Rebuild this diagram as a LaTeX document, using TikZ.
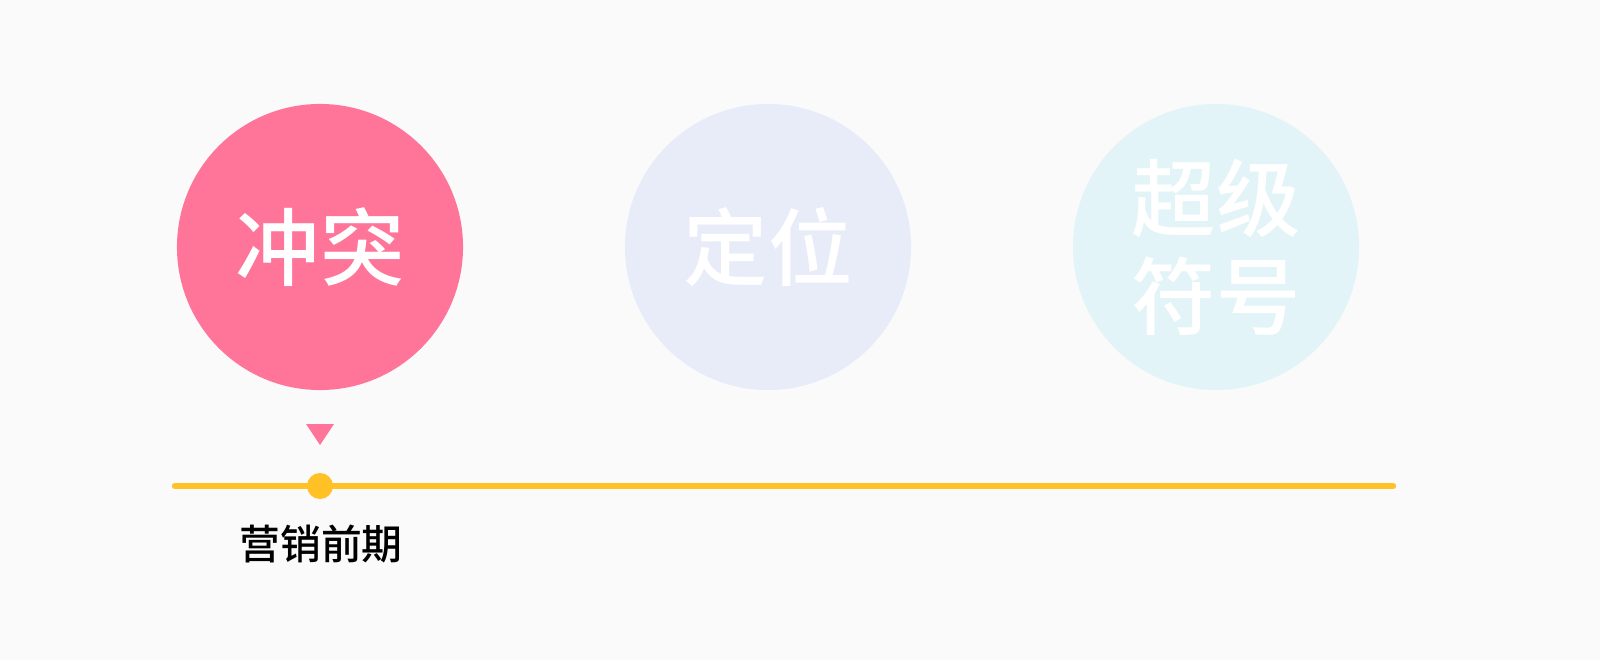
\documentclass[tikz,border=0pt]{standalone}
\usepackage{fontspec}
\setmainfont{Noto Sans CJK SC}
\newfontfamily\cjkmed{Noto Sans CJK SC Medium}
\definecolor{bgcol}{HTML}{FAFAFA}
\definecolor{pinkcol}{HTML}{FF7499}
\definecolor{lavcol}{HTML}{E8ECF8}
\definecolor{cyancol}{HTML}{E2F4F7}
\definecolor{linecol}{HTML}{FFC125}
\tikzset{
	bubble/.style={circle, minimum size=7.15cm, inner sep=0pt, align=center,
		font=\cjkmed\fontsize{60}{70}\selectfont},
}
\begin{document}
\begin{tikzpicture}[x=0.025cm, y=0.025cm]
	\fill[bgcol] (0,0) rectangle (1600,660);
	\useasboundingbox (0,0) rectangle (1600,660);

	\foreach \x/\c/\t/\n in {320/pinkcol/冲突/a, 768/lavcol/定位/b, 1216/cyancol/超级\\符号/c}
	{
		\node[bubble, fill=\c, text=white] (stage\n) at (\x, 413) {\t};
	}

	\fill[pinkcol] (306, 236) -- (334, 236) -- (320, 215) -- cycle;

	\coordinate (start) at (175, 174);
	\coordinate (end) at (1393, 174);
	\draw[linecol, line width=0.16cm, line cap=round] (start) -- (end);
	\node[circle, fill=linecol, minimum size=0.65cm, inner sep=0pt] (dot) at (320, 174) {};

	\node[font=\cjkmed\fontsize{29}{34}\selectfont] (phase) at (321, 116) {营销前期};
\end{tikzpicture}
\end{document}
